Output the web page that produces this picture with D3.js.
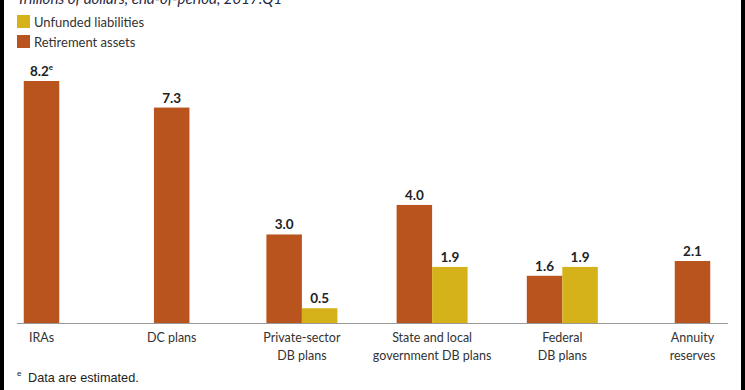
<!DOCTYPE html>
<html>
<head>
<meta charset="utf-8">
<script src="https://cdn.jsdelivr.net/npm/d3@7"></script>
<style>
  html, body { margin: 0; padding: 0; background: #fff; }
  svg { display: block; }
</style>
</head>
<body>
<div id="chart"></div>
<script>
// categories, two lines each for the axis labels
const categories = ["IRAs", "DC plans", "Private-sector DB plans", "State and local government DB plans", "Federal DB plans", "Annuity reserves"];
const catLines = [["IRAs"], ["DC plans"], ["Private-sector", "DB plans"], ["State and local", "government DB plans"], ["Federal", "DB plans"], ["Annuity", "reserves"]];
const retirementAssets = [8.2, 7.3, 3.0, 4.0, 1.6, 2.1];
const unfundedLiabilities = [null, null, 0.5, 1.9, 1.9, null];
const estimated = [true, false, false, false, false, false];
const seriesNames = ["Unfunded liabilities", "Retirement assets"];

const width = 745, height = 390;
const colAssets = "#b9541f", colUnfunded = "#d5b11a";
const font = "Lato, 'Open Sans', sans-serif";

const svg = d3.select("#chart").append("svg")
  .attr("width", width).attr("height", height);

// frame edges
svg.append("rect").attr("x", 0).attr("y", 0).attr("width", 4).attr("height", height).attr("fill", "#000");
svg.append("rect").attr("x", 741).attr("y", 0).attr("width", 4).attr("height", height).attr("fill", "#000");

// subtitle, cut by the top edge as in the source image
svg.append("text")
  .attr("x", 17).attr("y", 4)
  .attr("font-family", font).attr("font-style", "italic")
  .attr("font-size", 15).attr("fill", "#1f2a44")
  .text("Trillions of dollars, end-of-period, 2017:Q1");

// legend
const leg = svg.append("g").attr("font-family", font).attr("font-size", 13).attr("fill", "#333");
[colUnfunded, colAssets].forEach((c, i) => {
  leg.append("rect").attr("x", 17).attr("y", 15 + i * 20).attr("width", 13).attr("height", 13).attr("fill", c);
  leg.append("text").attr("x", 34).attr("y", 26.5 + i * 20).text(seriesNames[i]);
});

const baseY = 323;
const x = d3.scalePoint().domain(categories).range([41.5, 692.5]);
const y = d3.scaleLinear().domain([0, 8.2]).range([baseY, 81]);
const bw = 35.5;

const rows = categories.map((c, i) => ({
  cat: c, a: retirementAssets[i], u: unfundedLiabilities[i], est: estimated[i]
}));

const bars = [];
rows.forEach(r => {
  const cx = x(r.cat);
  if (r.u == null) {
    bars.push({ x0: cx - bw / 2, v: r.a, c: colAssets, est: r.est });
  } else {
    bars.push({ x0: cx - bw, v: r.a, c: colAssets, est: r.est });
    bars.push({ x0: cx, v: r.u, c: colUnfunded, est: false });
  }
});

svg.append("g").selectAll("rect").data(bars).join("rect")
  .attr("x", d => d.x0).attr("width", bw)
  .attr("y", d => y(d.v)).attr("height", d => baseY - y(d.v))
  .attr("fill", d => d.c);

const lbl = svg.append("g").selectAll("text").data(bars).join("text")
  .attr("x", d => d.x0 + bw / 2).attr("y", d => y(d.v) - 5)
  .attr("text-anchor", "middle")
  .attr("font-family", font).attr("font-weight", "bold")
  .attr("font-size", 13.5).attr("fill", "#222")
  .text(d => d3.format(".1f")(d.v));
lbl.filter(d => d.est).append("tspan")
  .attr("font-size", 8).attr("dy", -6).text("e");

// baseline
svg.append("line").attr("x1", 17).attr("x2", 728)
  .attr("y1", baseY + 0.5).attr("y2", baseY + 0.5)
  .attr("stroke", "#999").attr("stroke-width", 1);

// category labels
const cl = svg.append("g").attr("font-family", font).attr("font-size", 12.5).attr("fill", "#333")
  .selectAll("text").data(categories).join("text")
  .attr("x", d => x(d)).attr("y", 342).attr("text-anchor", "middle");
cl.selectAll("tspan").data((d, i) => catLines[i]).join("tspan")
  .attr("x", function () { return x(d3.select(this.parentNode).datum()); })
  .attr("dy", (d, i) => i === 0 ? 0 : 18)
  .text(d => d);

// footnote
const fn = svg.append("text").attr("x", 17).attr("y", 382)
  .attr("font-family", "'Liberation Sans', Arial, sans-serif").attr("font-size", 12.7).attr("fill", "#222");
fn.append("tspan").attr("font-size", 8).attr("dy", -6).text("e");
fn.append("tspan").attr("x", 28).attr("dy", 6).text("Data are estimated.");
</script>
</body>
</html>
